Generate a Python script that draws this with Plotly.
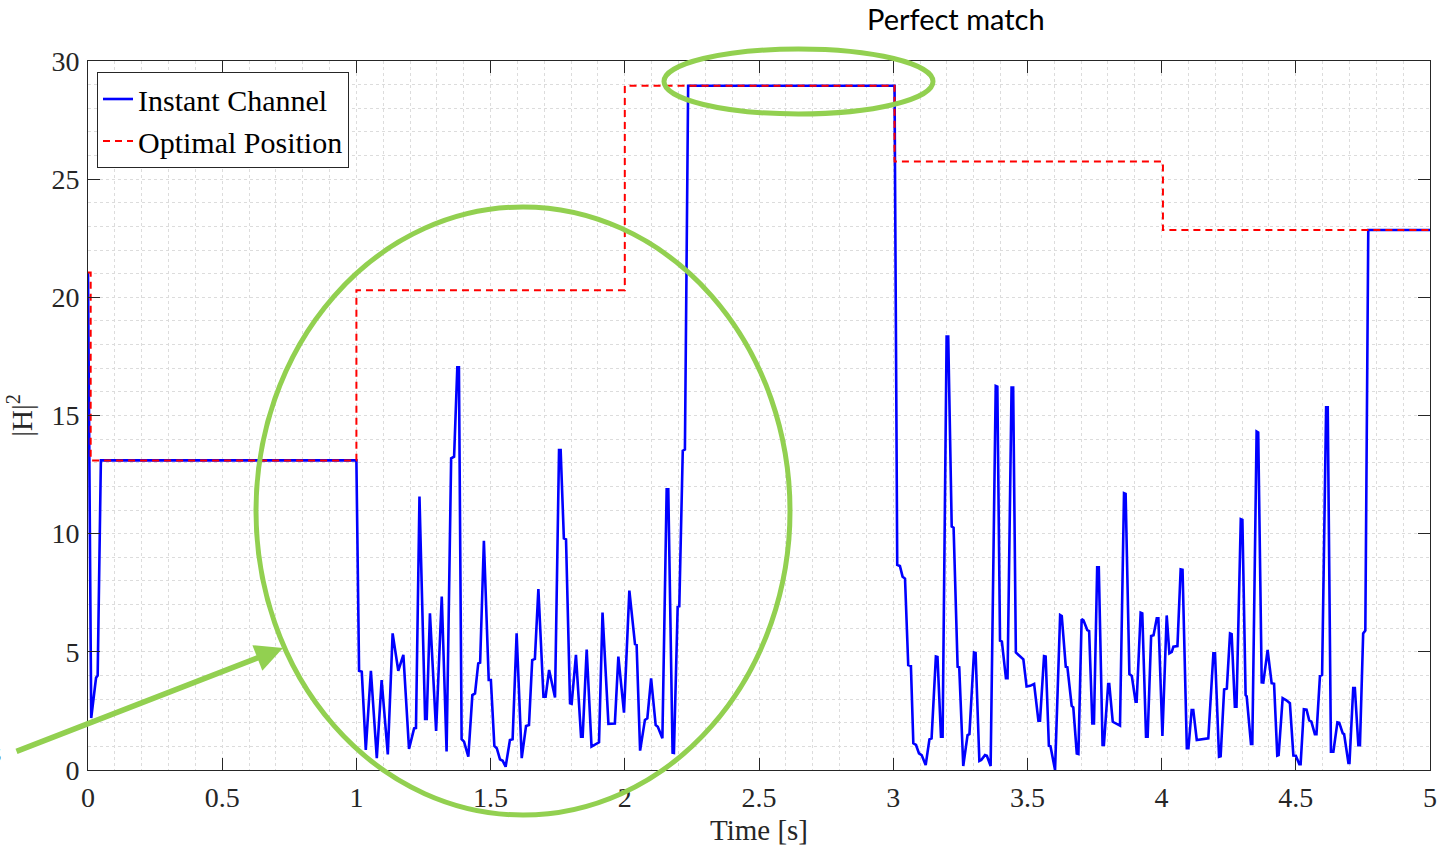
import plotly.graph_objects as go

# ---------------- data ----------------
# Instant channel |H|^2 samples, (time [s], value)
instant_0_1 = [(0.0, 21.05), (0.012, 2.2), (0.030, 3.9), (0.036, 4.0), (0.048, 13.1), (1.0, 13.1)]

instant_1_3 = [
    (1.010, 4.2), (1.020, 4.16), (1.035, 0.85), (1.054, 4.2), (1.076, 0.5), (1.094, 3.8),
    (1.117, 0.66), (1.135, 5.78), (1.156, 4.2), (1.175, 4.87), (1.196, 0.89), (1.215, 1.76),
    (1.222, 1.78), (1.235, 11.57), (1.256, 2.16), (1.262, 2.16), (1.274, 6.63), (1.297, 1.65),
    (1.318, 7.34), (1.336, 0.78), (1.353, 13.19), (1.364, 13.26), (1.376, 17.04), (1.382, 17.04),
    (1.392, 1.3), (1.401, 1.2), (1.417, 0.56), (1.432, 3.17), (1.442, 3.24), (1.454, 4.51),
    (1.461, 4.54), (1.475, 9.7), (1.493, 3.81), (1.501, 3.81), (1.514, 1.02), (1.523, 0.92),
    (1.535, 0.45), (1.545, 0.39), (1.556, 0.14), (1.572, 1.27), (1.582, 1.3), (1.597, 5.78),
    (1.616, 0.5), (1.632, 1.86), (1.643, 1.9), (1.655, 4.65), (1.665, 4.7), (1.678, 7.66),
    (1.697, 3.1), (1.705, 3.1), (1.718, 4.23), (1.740, 3.07), (1.755, 13.54), (1.761, 13.54),
    (1.773, 9.8), (1.781, 9.76), (1.796, 2.82), (1.802, 2.8), (1.818, 4.87), (1.837, 1.41),
    (1.843, 1.41), (1.858, 5.1), (1.876, 0.99), (1.885, 1.05), (1.904, 1.17), (1.917, 6.66),
    (1.939, 1.95), (1.963, 1.97), (1.976, 4.8), (1.997, 2.43), (2.017, 7.59), (2.038, 5.33),
    (2.044, 5.3), (2.057, 0.82), (2.075, 2.12), (2.084, 2.19), (2.098, 3.88), (2.115, 1.9),
    (2.123, 1.83), (2.140, 1.34), (2.156, 11.88), (2.162, 11.88), (2.178, 0.73), (2.183, 0.72),
    (2.197, 6.91), (2.203, 6.93), (2.216, 13.51), (2.224, 13.56), (2.236, 28.95), (3.005, 28.95),
]

instant_3_5 = [
    (3.015, 8.68), (3.025, 8.63), (3.035, 8.18), (3.044, 8.1), (3.056, 4.44), (3.066, 4.4),
    (3.075, 1.13), (3.085, 1.06), (3.096, 0.7), (3.106, 0.63), (3.121, 0.21), (3.135, 1.3),
    (3.143, 1.34), (3.159, 4.8), (3.165, 4.78), (3.178, 1.41), (3.184, 1.41), (3.199, 18.34),
    (3.205, 18.34), (3.218, 10.3), (3.225, 10.25), (3.240, 4.37), (3.246, 4.35), (3.261, 0.17),
    (3.277, 1.48), (3.284, 1.52), (3.301, 4.97), (3.307, 4.95), (3.321, 0.38), (3.328, 0.42),
    (3.342, 0.63), (3.349, 0.6), (3.363, 0.17), (3.382, 16.25), (3.388, 16.22), (3.398, 5.47),
    (3.405, 5.43), (3.420, 3.88), (3.426, 3.88), (3.441, 16.18), (3.447, 16.18), (3.457, 4.97),
    (3.470, 4.85), (3.485, 4.68), (3.497, 3.53), (3.510, 3.56), (3.525, 3.64), (3.541, 2.09),
    (3.547, 2.09), (3.562, 4.82), (3.568, 4.8), (3.580, 1.02), (3.586, 1.0), (3.603, 0.0),
    (3.622, 6.56), (3.628, 6.52), (3.643, 4.37), (3.649, 4.35), (3.665, 2.71), (3.671, 2.65),
    (3.684, 0.7), (3.690, 0.68), (3.702, 6.38), (3.709, 6.33), (3.723, 5.92), (3.730, 5.88),
    (3.742, 1.97), (3.748, 1.97), (3.760, 8.58), (3.766, 8.58), (3.780, 1.06), (3.785, 1.06),
    (3.801, 3.64), (3.805, 3.64), (3.818, 2.04), (3.832, 1.95), (3.845, 1.88), (3.860, 11.71),
    (3.866, 11.68), (3.880, 4.06), (3.889, 3.98), (3.903, 2.89), (3.907, 2.89), (3.922, 6.66),
    (3.928, 6.63), (3.942, 1.41), (3.948, 1.41), (3.961, 5.67), (3.970, 5.7), (3.982, 6.42),
    (3.988, 6.42), (4.003, 1.44), (4.019, 6.54), (4.029, 4.94), (4.038, 5.0), (4.044, 5.22),
    (4.059, 5.24), (4.071, 8.49), (4.078, 8.47), (4.094, 0.92), (4.100, 0.92), (4.112, 2.54),
    (4.118, 2.54), (4.131, 1.27), (4.174, 1.34), (4.193, 4.94), (4.199, 4.94), (4.214, 0.56),
    (4.220, 0.58), (4.233, 3.41), (4.243, 3.45), (4.255, 5.78), (4.261, 5.75), (4.273, 2.68),
    (4.279, 2.68), (4.295, 10.61), (4.301, 10.58), (4.313, 3.17), (4.317, 3.12), (4.333, 1.1),
    (4.338, 1.1), (4.354, 14.32), (4.360, 14.28), (4.373, 3.71), (4.379, 3.7), (4.395, 5.08),
    (4.410, 3.67), (4.419, 3.65), (4.431, 0.61), (4.436, 0.63), (4.451, 3.04), (4.465, 2.95),
    (4.478, 2.83), (4.491, 0.61), (4.500, 0.6), (4.513, 0.25), (4.518, 0.25), (4.530, 2.57),
    (4.540, 2.55), (4.550, 2.1), (4.558, 2.05), (4.571, 1.52), (4.577, 1.52), (4.590, 3.98),
    (4.598, 4.02), (4.613, 15.35), (4.619, 15.35), (4.631, 0.77), (4.640, 0.77), (4.655, 2.02),
    (4.662, 2.0), (4.675, 1.55), (4.680, 1.52), (4.696, 0.3), (4.700, 0.3), (4.714, 3.47),
    (4.720, 3.47), (4.733, 1.05), (4.739, 1.05), (4.751, 5.78), (4.759, 5.9), (4.770, 22.85),
    (5.0, 22.85),
]

# Optimal position (step function)
optimal_t = [0.0, 0.01, 1.0, 2.0, 3.005, 4.005, 5.0]
optimal_h = [21.05, 13.1, 20.3, 28.95, 25.75, 22.85, 22.85]

x_ticks = [0, 0.5, 1, 1.5, 2, 2.5, 3, 3.5, 4, 4.5, 5]
y_ticks = [0, 5, 10, 15, 20, 25, 30]

# ---------------- figure ----------------
samples = instant_0_1 + instant_1_3 + instant_3_5
inst_t = [p[0] for p in samples]
inst_h = [p[1] for p in samples]

SERIF = "Liberation Serif"
AX = "#262626"
GRID = "#dcdcdc"
GREEN = "#92D050"

W, H = 1441, 849
L, R, T, B = 88, 11, 61, 79
PW, PH = W - L - R, H - T - B


def px(xp):
    return (xp - L) / PW


def py(yp):
    return (H - B - yp) / PH


fig = go.Figure()
fig.add_trace(go.Scatter(x=inst_t, y=inst_h, mode="lines", name="Instant Channel",
                         line=dict(color="#0000FF", width=2.6)))
fig.add_trace(go.Scatter(x=optimal_t, y=optimal_h, mode="lines", name="Optimal Position",
                         line=dict(color="#FF0000", width=2, dash="7px,5px", shape="hv")))

axis_common = dict(
    showline=True, linecolor=AX, linewidth=1, mirror="ticks",
    ticks="inside", ticklen=12, tickcolor=AX, tickwidth=1,
    showgrid=True, gridcolor=GRID, griddash="dot", gridwidth=1,
    zeroline=False,
    tickfont=dict(family=SERIF, size=28, color=AX),
)

fig.update_xaxes(range=[0, 5], tickvals=x_ticks, ticktext=[f"{v:g}" for v in x_ticks],
                 minor=dict(dtick=0.1, showgrid=True, gridcolor=GRID, griddash="dot", ticks=""),
                 title=dict(text="Time [s]", font=dict(family=SERIF, size=29, color=AX), standoff=8),
                 ticklabelstandoff=2,
                 **axis_common)
fig.update_yaxes(range=[0, 30], tickvals=y_ticks, ticktext=[str(v) for v in y_ticks],
                 minor=dict(dtick=1, showgrid=True, gridcolor=GRID, griddash="dot", ticks=""),
                 title=dict(text="|H|<sup>2</sup>", font=dict(family=SERIF, size=29, color=AX), standoff=10),
                 ticklabelstandoff=2,
                 **axis_common)

fig.update_layout(
    width=W, height=H,
    margin=dict(l=L, r=R, t=T, b=B, autoexpand=False),
    paper_bgcolor="white", plot_bgcolor="white",
    showlegend=True,
    legend=dict(x=px(97), y=py(72), xanchor="left", yanchor="top",
                bgcolor="white", bordercolor=AX, borderwidth=1,
                font=dict(family=SERIF, size=30, color="black"),
                itemwidth=30, tracegroupgap=0),
    shapes=[
        dict(type="circle", xref="paper", yref="paper",
             x0=px(256), x1=px(790), y0=py(815), y1=py(207),
             line=dict(color=GREEN, width=5), layer="above"),
        dict(type="circle", xref="paper", yref="paper",
             x0=px(664), x1=px(933), y0=py(114), y1=py(49),
             line=dict(color=GREEN, width=5), layer="above"),
    ],
    annotations=[
        dict(text="Perfect match", xref="paper", yref="paper", x=px(956), y=py(18),
             xanchor="center", yanchor="middle", showarrow=False,
             font=dict(family="Lato", size=29, color="black")),
        dict(text="", xref="paper", yref="paper", x=px(283), y=py(648),
             ax=-268, ay=104, showarrow=True, arrowcolor=GREEN, arrowwidth=5.5,
             arrowhead=2, arrowsize=1, standoff=0),
        dict(text="s", xref="paper", yref="paper", x=px(3), y=py(752),
             xanchor="right", yanchor="middle", showarrow=False,
             font=dict(family="Lato", size=26, color="black")),
    ],
)

fig.write_html("out.html")
